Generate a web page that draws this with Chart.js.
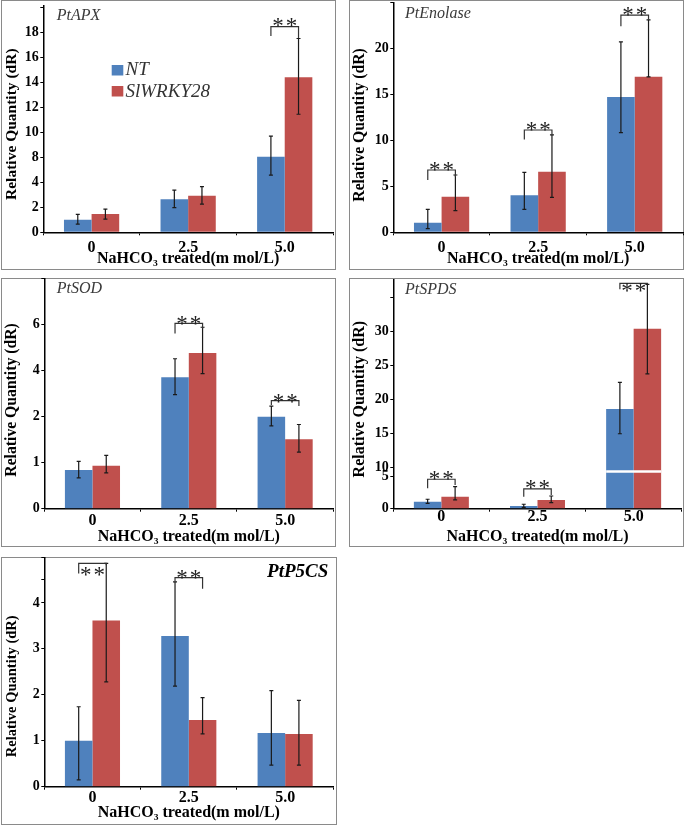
<!DOCTYPE html>
<html><head><meta charset="utf-8">
<script src="https://cdn.jsdelivr.net/npm/chart.js@4.4.0/dist/chart.umd.min.js"></script>
<style>
html,body{margin:0;padding:0;background:#fff;}
body{width:685px;height:826px;position:relative;overflow:hidden;}
</style></head><body>
<script>
// ---------- DATA ----------
const categories = ['0', '2.5', '5.0'];
const seriesNames = ['NT', 'SlWRKY28'];
const xAxisTitle = 'NaHCO\u2083 treated(m mol/L)';
const yAxisTitle = 'Relative Quantity (dR)';
const seriesColors = ['#4F81BD', '#C0504D'];

// PtAPX  (broken y axis: 4 -> 8)
const apxNT = [1.0, 2.64, 8.05];
const apxSW = [1.46, 2.93, 14.4];
const apxNTErr = [[0.66, 1.44], [1.97, 3.38], [5.16, 9.7]];
const apxSWErr = [[1.06, 1.86], [2.26, 3.65], [11.44, 17.5]];
const apxBrackets = [[2, 18.45, 17.7, 17.54, 18.85]]; // [category, top, left leg end, right leg end, stars]
const apxTicks = [0, 2, 4, 8, 10, 12, 14, 16, 18, 20];
const apxTickLabels = ['0', '2', '4', '8', '10', '12', '14', '16', '18', ''];
const apxBreakReal = [0, 4, 8, 30];
const apxBreakShown = [0, 4, 6, 28];
const apxYMax = 20.1;

// PtEnolase
const enoNT = [1.04, 4.02, 14.7];
const enoSW = [3.87, 6.59, 16.9];
const enoNTErr = [[0.4, 2.5], [2.5, 6.52], [10.83, 20.7]];
const enoSWErr = [[2.35, 6.23], [3.8, 10.58], [16.9, 23.1]];
const enoBrackets = [[0, 6.77, 5.68, 6.04, 7.24], [1, 11.12, 10.1, 10.58, 11.58], [2, 23.6, 22.4, 23.1, 24.08]];
const enoTicks = [0, 5, 10, 15, 20, 25];
const enoTickLabels = ['0', '5', '10', '15', '20', ''];
const enoBreakReal = [0, 100];
const enoBreakShown = [0, 100];
const enoYMax = 25;

// PtSOD  (y axis: 0,1,2 then 4,6 compressed)
const sodNT = [0.84, 3.71, 2.0];
const sodSW = [0.935, 4.77, 1.51];
const sodNTErr = [[0.67, 1.03], [2.96, 4.52], [1.8, 2.46]];
const sodSWErr = [[0.78, 1.16], [3.87, 5.89], [1.23, 1.83]];
const sodBrackets = [[1, 6.06, 5.62, 5.84, 6.22], [2, 2.70, 2.51, 2.46, 2.84]];
const sodTicks = [0, 1, 2, 4, 6, 8];
const sodTickLabels = ['0', '1', '2', '4', '6', ''];
const sodBreakReal = [0, 2, 10];
const sodBreakShown = [0, 2, 6];
const sodYMax = 8;

// PtSPDS  (broken y axis: 5 -> 10)
const spdsNT = [1.09, 0.42, 18.59];
const spdsSW = [1.875, 1.36, 30.35];
const spdsNTErr = [[0.84, 1.47], [0.22, 0.69], [14.96, 22.5]];
const spdsSWErr = [[1.36, 3.44], [0.94, 1.98], [23.74, 36.87]];
const spdsBrackets = [[0, 4.59, 3.19, 3.7, 5.94], [1, 3.08, 1.875, 2.14, 3.86], [2, 37.0, 36.13, 36.87, 36.57]];
const spdsTicks = [0, 5, 10, 15, 20, 25, 30, 35];
const spdsTickLabels = ['0', '5', '10', '15', '20', '25', '30', ''];
const spdsBreakReal = [0, 5, 10, 40];
const spdsBreakShown = [0, 32, 41, 245];
const spdsYMax = 37.6;
const spdsBreakMark = 7.8;

// PtP5CS
const p5NT = [1.0, 3.28, 1.17];
const p5SW = [3.62, 1.45, 1.145];
const p5NTErr = [[0.15, 1.74], [2.19, 4.46], [0.47, 2.09]];
const p5SWErr = [[2.28, 4.86], [1.15, 1.94], [0.47, 1.88]];
const p5Brackets = [[0, 4.86, 4.64, 4.82, 4.71], [1, 4.55, 4.46, 4.31, 4.64]];
const p5Ticks = [0, 1, 2, 3, 4, 4.5, 5];
const p5TickLabels = ['0', '1', '2', '3', '4', '', ''];
const p5BreakReal = [0, 100];
const p5BreakShown = [0, 100];
const p5YMax = 5;

// ---------- LAYOUT ----------
const FONT = '"Liberation Serif", "Times New Roman", serif';

function makeMap(r, s) {
  return function (v) {
    for (let i = 0; i < r.length - 1; i++) {
      if (v <= r[i + 1] || i === r.length - 2) {
        const t = (v - r[i]) / (r[i + 1] - r[i]);
        return s[i] + t * (s[i + 1] - s[i]);
      }
    }
  };
}

const panels = [
  { gene: 'PtAPX', nt: apxNT, sw: apxSW, ntErr: apxNTErr, swErr: apxSWErr, brackets: apxBrackets,
    ticks: apxTicks, tickLabels: apxTickLabels, br: apxBreakReal, bs: apxBreakShown, yMax: apxYMax,
    box: { x: 1, y: 0, w: 335, h: 270 }, area: { left: 43.3, right: 333, top: 6, bottom: 232.3 },
    xTickY: 248.3, xTitleY: 258.5, yTitle: { cx: 12, cy: 124.2, size: 15.5 },
    title: { x: 56.7, y: 19.5, align: 'left', font: 'italic 16px ' + FONT },
    legend: { x: 111.7, y1: 65, y2: 86, sw: 11.6, sh: 10.5, tx: 125.5, b1: 75, b2: 96.5, font: 'italic 19px ' + FONT } },
  { gene: 'PtEnolase', nt: enoNT, sw: enoSW, ntErr: enoNTErr, swErr: enoSWErr, brackets: enoBrackets,
    ticks: enoTicks, tickLabels: enoTickLabels, br: enoBreakReal, bs: enoBreakShown, yMax: enoYMax,
    box: { x: 349, y: 0, w: 335, h: 270 }, area: { left: 393.3, right: 683, top: 2.3, bottom: 232.3 },
    xTickY: 247.8, xTitleY: 258.5, yTitle: { cx: 359.5, cy: 125, size: 15.7 },
    title: { x: 405, y: 18, align: 'left', font: 'italic 16px ' + FONT } },
  { gene: 'PtSOD', nt: sodNT, sw: sodSW, ntErr: sodNTErr, swErr: sodSWErr, brackets: sodBrackets,
    ticks: sodTicks, tickLabels: sodTickLabels, br: sodBreakReal, bs: sodBreakShown, yMax: sodYMax,
    box: { x: 1, y: 278, w: 335, h: 269 }, area: { left: 44.3, right: 333.3, top: 278.7, bottom: 508.7 },
    xTickY: 520.5, xTitleY: 536.5, yTitle: { cx: 12, cy: 400, size: 15.7 },
    title: { x: 56.7, y: 293, align: 'left', font: 'italic 16px ' + FONT } },
  { gene: 'PtSPDS', nt: spdsNT, sw: spdsSW, ntErr: spdsNTErr, swErr: spdsSWErr, brackets: spdsBrackets,
    ticks: spdsTicks, tickLabels: spdsTickLabels, br: spdsBreakReal, bs: spdsBreakShown, yMax: spdsYMax,
    breakMark: spdsBreakMark,
    box: { x: 349, y: 278, w: 335, h: 269 }, area: { left: 393.3, right: 681.7, top: 279.3, bottom: 508.7 },
    xTickY: 517, xTitleY: 536.5, yTitle: { cx: 359.5, cy: 399.2, size: 16 },
    title: { x: 405, y: 294, align: 'left', font: 'italic 16px ' + FONT } },
  { gene: 'PtP5CS', nt: p5NT, sw: p5SW, ntErr: p5NTErr, swErr: p5SWErr, brackets: p5Brackets,
    ticks: p5Ticks, tickLabels: p5TickLabels, br: p5BreakReal, bs: p5BreakShown, yMax: p5YMax,
    box: { x: 1, y: 557, w: 336, h: 268 }, area: { left: 44.3, right: 333.3, top: 557, bottom: 786.7 },
    xTickY: 797.5, xTitleY: 813, yTitle: { cx: 12.5, cy: 686.3, size: 14.5 },
    title: { x: 328.3, y: 577, align: 'right', font: 'italic bold 19px ' + FONT } }
];

function decoPlugin(p, map) {
  const ox = p.box.x, oy = p.box.y;
  return {
    id: 'deco_' + p.gene,
    afterDatasetsDraw(chart) {
      const ctx = chart.ctx;
      const ys = chart.scales.y;
      const Y = v => ys.getPixelForValue(map(v));
      const m0 = chart.getDatasetMeta(0).data, m1 = chart.getDatasetMeta(1).data;
      ctx.save();
      // axis-break mark across the tall bars
      if (p.breakMark !== undefined) {
        const yb = Y(p.breakMark);
        const b0 = m0[2], b1 = m1[2];
        ctx.strokeStyle = '#fff'; ctx.lineWidth = 2.5;
        ctx.beginPath(); ctx.moveTo(b0.x - b0.width / 2, yb); ctx.lineTo(b1.x + b1.width / 2, yb); ctx.stroke();
      }
      // error bars
      ctx.strokeStyle = '#1a1a1a'; ctx.lineWidth = 1.2;
      [[m0, p.ntErr], [m1, p.swErr]].forEach(([meta, errs]) => {
        errs.forEach((e, i) => {
          const x = meta[i].x, yl = Y(e[0]), yh = Y(e[1]);
          ctx.beginPath();
          ctx.moveTo(x, yl); ctx.lineTo(x, yh);
          ctx.moveTo(x - 2, yl); ctx.lineTo(x + 2, yl);
          ctx.moveTo(x - 2, yh); ctx.lineTo(x + 2, yh);
          ctx.stroke();
        });
      });
      // significance brackets
      p.brackets.forEach(b => {
        const [c, top, lb, rb, st] = b;
        const xl = m0[c].x, xr = m1[c].x;
        ctx.strokeStyle = '#333'; ctx.lineWidth = 1.2;
        ctx.beginPath();
        ctx.moveTo(xl, Y(lb)); ctx.lineTo(xl, Y(top)); ctx.lineTo(xr, Y(top)); ctx.lineTo(xr, Y(rb));
        ctx.stroke();
        const fs = 23;
        ctx.font = fs + 'px ' + FONT;
        ctx.fillStyle = '#222';
        ctx.textAlign = 'center'; ctx.textBaseline = 'alphabetic';
        try { ctx.letterSpacing = '2px'; } catch (e) {}
        ctx.fillText('**', (xl + xr) / 2 + 1, Y(st) + fs * 0.5);
        try { ctx.letterSpacing = '0px'; } catch (e) {}
      });
      ctx.restore();
    },
    afterDraw(chart) {
      const ctx = chart.ctx;
      ctx.save();
      // panel title
      ctx.font = p.title.font; ctx.fillStyle = p.title.align === 'right' ? '#000' : '#3a3a3a';
      ctx.textAlign = p.title.align; ctx.textBaseline = 'alphabetic';
      ctx.fillText(p.gene, p.title.x - ox, p.title.y - oy);
      // y axis title
      ctx.save();
      ctx.translate(p.yTitle.cx - ox, p.yTitle.cy - oy);
      ctx.rotate(-Math.PI / 2);
      ctx.font = 'bold ' + p.yTitle.size + 'px ' + FONT;
      ctx.fillStyle = '#000'; ctx.textAlign = 'center'; ctx.textBaseline = 'middle';
      ctx.fillText(yAxisTitle, 0, 0);
      ctx.restore();
      // legend
      if (p.legend) {
        const L = p.legend;
        ctx.fillStyle = seriesColors[0];
        ctx.fillRect(L.x - ox, L.y1 - oy, L.sw, L.sh);
        ctx.fillStyle = seriesColors[1];
        ctx.fillRect(L.x - ox, L.y2 - oy, L.sw, L.sh);
        ctx.font = L.font; ctx.fillStyle = '#333'; ctx.textAlign = 'left'; ctx.textBaseline = 'alphabetic';
        ctx.fillText(seriesNames[0], L.tx - ox, L.b1 - oy);
        ctx.fillText(seriesNames[1], L.tx - ox, L.b2 - oy);
      }
      ctx.restore();
    }
  };
}

function buildChart(p) {
  const border = document.createElement('div');
  border.style.cssText = `position:absolute;left:${p.box.x}px;top:${p.box.y}px;width:${p.box.w}px;height:${p.box.h}px;box-sizing:border-box;border:1px solid #8a8a8a;`;
  document.body.appendChild(border);
  const canvas = document.createElement('canvas');
  canvas.width = p.box.w; canvas.height = p.box.h;
  canvas.style.cssText = `position:absolute;left:${p.box.x}px;top:${p.box.y}px;width:${p.box.w}px;height:${p.box.h}px;`;
  document.body.appendChild(canvas);

  const map = makeMap(p.br, p.bs);
  const tickLen = 3, xTickSize = 16, xTitleSize = 16;
  const xScaleH = (p.box.y + p.box.h) - p.area.bottom;
  const yScaleW = p.area.left - p.box.x;
  const xTickPad = (p.xTickY - p.area.bottom) - tickLen - xTickSize * 1.2 / 2;
  const xTitlePad = (p.box.y + p.box.h) - p.xTitleY - xTitleSize * 1.2 / 2;

  new Chart(canvas, {
    type: 'bar',
    data: {
      labels: categories,
      datasets: [
        { label: seriesNames[0], data: p.nt.map(map), backgroundColor: seriesColors[0], borderWidth: 0,
          categoryPercentage: 0.572, barPercentage: 1 },
        { label: seriesNames[1], data: p.sw.map(map), backgroundColor: seriesColors[1], borderWidth: 0,
          categoryPercentage: 0.572, barPercentage: 1 }
      ]
    },
    options: {
      responsive: false, animation: false, devicePixelRatio: 1,
      layout: { padding: { left: 0, right: (p.box.x + p.box.w) - p.area.right, top: p.area.top - p.box.y, bottom: 0 } },
      plugins: { legend: { display: false }, tooltip: { enabled: false }, title: { display: false } },
      scales: {
        x: {
          type: 'category', offset: true,
          grid: { display: true, drawOnChartArea: false, drawTicks: true, tickLength: tickLen, color: '#000', lineWidth: 1, offset: true },
          border: { display: true, color: '#000', width: 1.5 },
          ticks: { color: '#000', font: { family: FONT, size: xTickSize, weight: 'bold' }, padding: xTickPad, maxRotation: 0, autoSkip: false },
          title: { display: true, text: xAxisTitle, color: '#000', font: { family: FONT, size: xTitleSize, weight: 'bold' }, padding: { top: 0, bottom: xTitlePad } },
          afterFit(s) { s.height = xScaleH; s.paddingLeft = 0; s.paddingRight = 0; s.paddingTop = 0; s.paddingBottom = 0; }
        },
        y: {
          type: 'linear', min: 0, max: map(p.yMax),
          grid: { display: true, drawOnChartArea: false, drawTicks: true, tickLength: tickLen, color: '#000', lineWidth: 1 },
          border: { display: true, color: '#000', width: 1.5 },
          ticks: { color: '#000', font: { family: FONT, size: 14, weight: 'bold' }, padding: 1.5, autoSkip: false,
                   callback: (v, i) => (p.tickLabels[i] !== undefined ? p.tickLabels[i] : '') },
          afterBuildTicks(s) { s.ticks = p.ticks.map(v => ({ value: map(v) })); },
          afterFit(s) { s.width = yScaleW; s.paddingLeft = 0; s.paddingRight = 0; s.paddingTop = 0; s.paddingBottom = 0; }
        }
      }
    },
    plugins: [decoPlugin(p, map)]
  });
}

panels.forEach(buildChart);
</script>
</body></html>
